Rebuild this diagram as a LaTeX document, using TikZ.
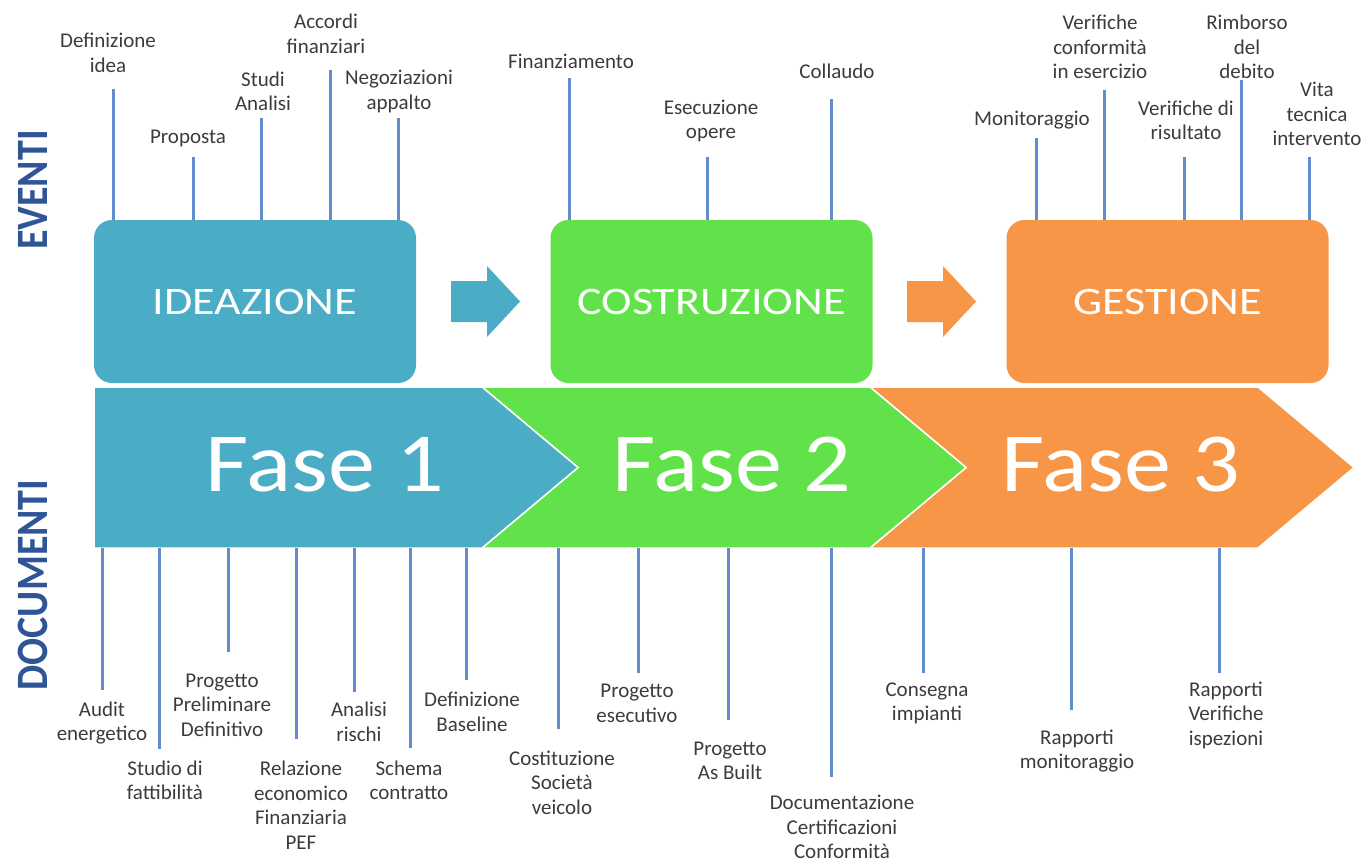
\documentclass[tikz,border=0pt]{standalone}
\usepackage{fontspec}
\setmainfont{Carlito}
\definecolor{cblue}{HTML}{4BACC6}
\definecolor{cgreen}{HTML}{62E24A}
\definecolor{corange}{HTML}{F79646}
\definecolor{cside}{HTML}{2F5597}
\definecolor{cline}{HTML}{628CCE}
\definecolor{ctext}{HTML}{3C3C3C}
\begin{document}
\begin{tikzpicture}[x=1pt,y=-1pt,
  phasebox/.style={rounded corners=18pt, minimum width=322pt, minimum height=163pt, inner sep=0pt, text=white,
    font=\fontsize{39}{39}\selectfont},
  fasetext/.style={inner sep=0pt, text=white, font=\fontsize{84}{84}\selectfont},
  lbl/.style={inner sep=0pt, align=center, text=ctext, font=\fontsize{21}{24.5}\selectfont},
  conn/.style={draw=cline, line width=3pt},
  side/.style={inner sep=0pt, rotate=90, text=cside, font=\fontsize{40}{40}\selectfont\bfseries},
  chev/.style={draw=white, line width=1.5pt}
]
\useasboundingbox (0,0) rectangle (1367,862);
\fill[white] (0,0) rectangle (1367,862);

% side titles
\node[side] (eventi) at (33,190) {\scalebox{1}[1.12]{EVENTI}};
\node[side] (documenti) at (33,585) {\scalebox{1}[1.12]{DOCUMENTI}};

% top boxes
\node[phasebox, fill=cblue] (ide) at (255,301.5) {\scalebox{1.18}[1]{IDEAZIONE}};
\node[phasebox, fill=cgreen] (cos) at (711.5,301.5) {\scalebox{1.18}[1]{COSTRUZIONE}};
\node[phasebox, fill=corange] (ges) at (1167.5,301.5) {\scalebox{1.18}[1]{GESTIONE}};

% block arrows
\fill[cblue] (451,281) -- (487,281) -- (487,266) -- (520,301.5) -- (487,337) -- (487,322) -- (451,322) -- cycle;
\fill[corange] (907,281) -- (943,281) -- (943,266) -- (976,301.5) -- (943,337) -- (943,322) -- (907,322) -- cycle;

% chevrons
\filldraw[chev, fill=corange] (870,387) -- (1258,387) -- (1354,467.5) -- (1258,548) -- (870,548) -- (966,467.5) -- cycle;
\filldraw[chev, fill=cgreen] (482,387) -- (870,387) -- (966,467.5) -- (870,548) -- (482,548) -- (578,467.5) -- cycle;
\filldraw[chev, fill=cblue] (94,387) -- (482,387) -- (578,467.5) -- (482,548) -- (94,548) -- cycle;
\coordinate (chevbot) at (0,548);

\node[fasetext] (f1) at (325,465) {\scalebox{1.12}[1]{Fase 1}};
\node[fasetext] (f2) at (732,465) {\scalebox{1.12}[1]{Fase 2}};
\node[fasetext] (f3) at (1121,465) {\scalebox{1.12}[1]{Fase 3}};

% top labels
\node[lbl] (defid) at (108,53) {Definizione\\idea};
\node[lbl] (prop) at (188,138) {Proposta};
\node[lbl] (studi) at (263,91.5) {Studi\\Analisi};
\node[lbl] (accordi) at (326,34) {Accordi\\finanziari};
\node[lbl] (nego) at (399,91.5) {Negoziazioni\\appalto};
\node[lbl] (fin) at (571,61) {Finanziamento};
\node[lbl] (esec) at (711,121) {Esecuzione\\opere};
\node[lbl] (coll) at (837,71) {Collaudo};
\node[lbl] (moni) at (1032,120) {Monitoraggio};
\node[lbl] (vconf) at (1100,47) {Verifiche\\conformità\\in esercizio};
\node[lbl] (vris) at (1186,120.5) {Verifiche di\\risultato};
\node[lbl] (rimb) at (1247,47) {Rimborso\\del\\debito};
\node[lbl] (vita) at (1317,114) {Vita\\tecnica\\intervento};

\coordinate (t1) at (113,89);
\coordinate (t2) at (193,157);
\coordinate (t3) at (261,118);
\coordinate (t4) at (330,70);
\coordinate (t5) at (398,118);
\coordinate (t6) at (569,78);
\coordinate (t7) at (707,157);
\coordinate (t8) at (831,99);
\coordinate (t9) at (1036,138);
\coordinate (t10) at (1104,90);
\coordinate (t11) at (1184,157);
\coordinate (t12) at (1241,80);
\coordinate (t13) at (1309,157);
\foreach \c in {t1,t2,t3,t4,t5} \draw[conn] (\c) -- (\c |- ide.north);
\foreach \c in {t6,t7,t8} \draw[conn] (\c) -- (\c |- cos.north);
\foreach \c in {t9,t10,t11,t12,t13} \draw[conn] (\c) -- (\c |- ges.north);

% bottom labels
\node[lbl] (audit) at (102,723) {Audit\\energetico};
\node[lbl] (studio) at (165,780.5) {Studio di\\fattibilità};
\node[lbl] (progprel) at (222,705) {Progetto\\Preliminare\\Definitivo};
\node[lbl] (rel) at (301,805) {Relazione\\economico\\Finanziaria\\PEF};
\node[lbl] (anal) at (359,722) {Analisi\\rischi};
\node[lbl] (schema) at (409,780.5) {Schema\\contratto};
\node[lbl] (defbase) at (472,712) {Definizione\\Baseline};
\node[lbl] (cost) at (562,782.5) {Costituzione\\Società\\veicolo};
\node[lbl] (progese) at (637,703.5) {Progetto\\esecutivo};
\node[lbl] (asbuilt) at (730,761) {Progetto\\As Built};
\node[lbl] (docum) at (842,827) {Documentazione\\Certificazioni\\Conformità};
\node[lbl] (conseg) at (927,703.5) {Consegna\\impianti};
\node[lbl] (rappmon) at (1077,751) {Rapporti\\monitoraggio};
\node[lbl] (rappver) at (1226,715) {Rapporti\\Verifiche\\ispezioni};

\coordinate (d1) at (102,690);
\coordinate (d2) at (159,749);
\coordinate (d3) at (228,652);
\coordinate (d4) at (296,739);
\coordinate (d5) at (354,692);
\coordinate (d6) at (410,748);
\coordinate (d7) at (466,680);
\coordinate (d8) at (558,729);
\coordinate (d9) at (638,673);
\coordinate (d10) at (728,720);
\coordinate (d11) at (831,777);
\coordinate (d12) at (923,673);
\coordinate (d13) at (1071,710);
\coordinate (d14) at (1219,673);
\foreach \c in {d1,d2,d3,d4,d5,d6,d7,d8,d9,d10,d11,d12,d13,d14} \draw[conn] (\c |- chevbot) -- (\c);
\end{tikzpicture}
\end{document}
